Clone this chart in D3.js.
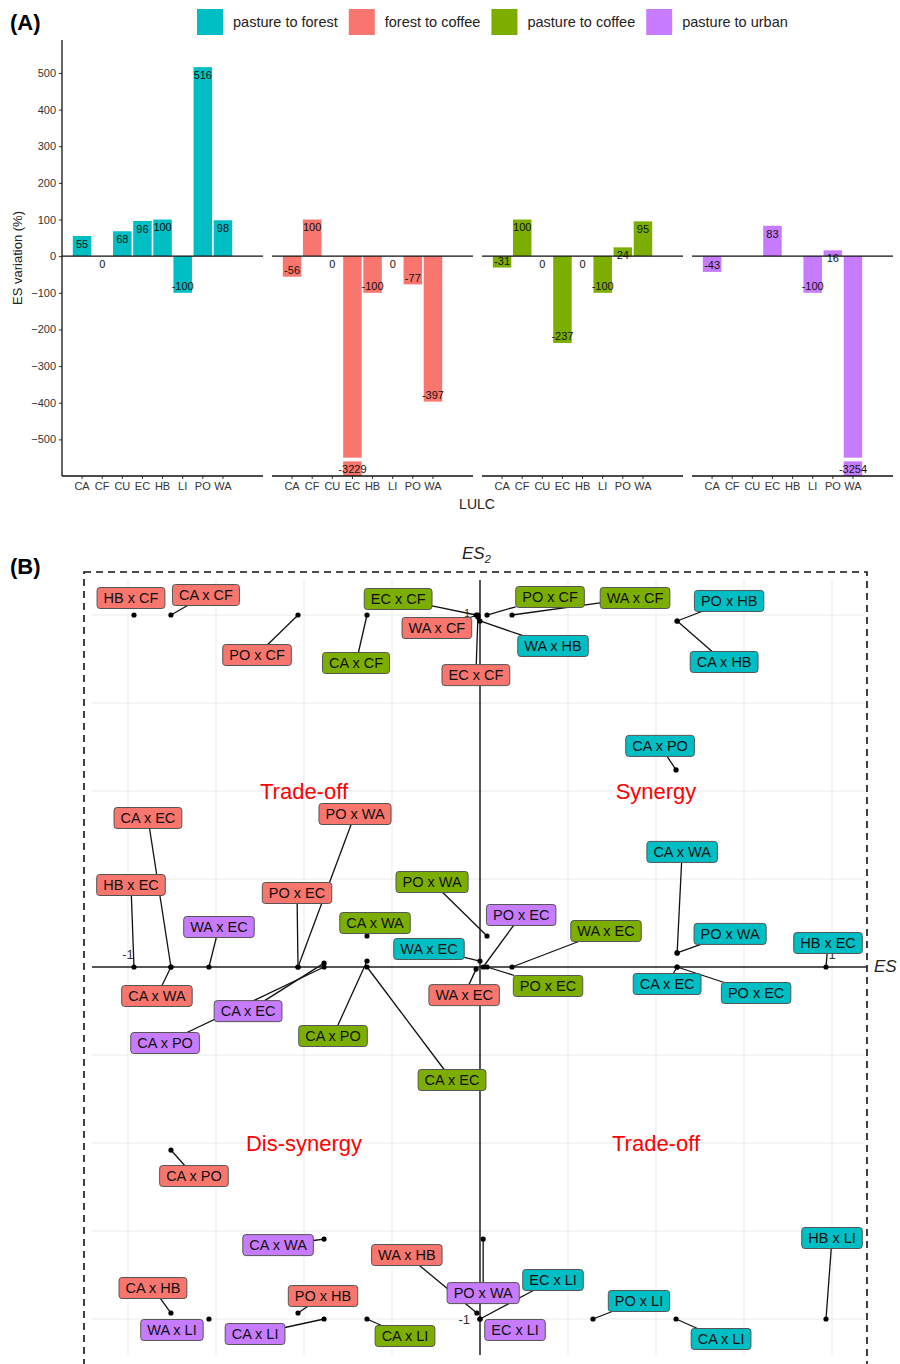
<!DOCTYPE html>
<html><head><meta charset="utf-8">
<script src="https://cdn.jsdelivr.net/npm/d3@7"></script>
<style>
body{margin:0;background:#fff}
text{font-family:"Liberation Sans",Arial,sans-serif}
</style></head><body>
<script>
// ---- panel A data ----
var lulc = ["CA","CF","CU","EC","HB","LI","PO","WA"];
var transitions = ["pasture to forest","forest to coffee","pasture to coffee","pasture to urban"];
var colors = ["#00BFC4","#F8766D","#7CAE00","#C77CFF"];
var pastureForest = [55,0,68,96,100,-100,516,98];
var forestCoffee = [-56,100,0,-3229,-100,0,-77,-397];
var pastureCoffee = [-31,100,0,-237,0,-100,24,95];
var pastureUrban = [-43,null,null,83,null,-100,16,-3254];
var yTicksA = [-500,-400,-300,-200,-100,0,100,200,300,400,500];

// ---- panel B data ----
// group: 0 pasture to forest, 1 forest to coffee, 2 pasture to coffee, 3 pasture to urban
var pairs = ["HB x CF","CA x CF","PO x CF","CA x CF","EC x CF","WA x CF","EC x CF","WA x HB","PO x CF","WA x CF",
  "PO x HB","CA x HB","CA x PO","CA x EC","HB x EC","CA x WA","WA x EC","PO x WA","PO x EC","CA x WA",
  "CA x EC","CA x PO","CA x PO","CA x EC","PO x WA","PO x EC","WA x EC","WA x EC","PO x EC","WA x EC",
  "CA x WA","PO x WA","CA x EC","PO x EC","HB x EC","CA x PO","CA x WA","WA x HB","CA x HB","WA x LI",
  "PO x HB","CA x LI","CA x LI","PO x WA","EC x LI","EC x LI","PO x LI","CA x LI","HB x LI"];
var pairGroup = [1,1,1,2,2,1,1,0,2,2, 0,0,0,1,1,1,3,1,1,2, 3,3,2,2,2,3,0,1,2,2, 0,0,0,0,0,1,3,1,1,3, 1,3,2,3,0,3,0,0,0];
var es1 = [-0.983,-0.878,-0.517,-0.321,-0.011,-0.006,-0.006,0,0.02,0.091,
  0.56,0.56,0.557,-0.878,-0.983,-0.878,-0.77,-0.517,-0.517,-0.321,
  -0.443,-0.443,-0.321,-0.321,0.02,0.009,0,-0.011,0.02,0.091,
  0.56,0.56,0.56,0.56,0.983,-0.878,-0.443,-0.009,-0.878,-0.77,
  -0.517,-0.443,-0.321,0.009,0,0,0.321,0.557,0.983];
var es2 = [1,1,1,1,1,1,0.994,0.983,1,1,
  0.983,0.983,0.56,0,0,0,0,0,0,0.088,
  0.011,0,0.017,0,0.088,0,0.017,-0.006,0,0,
  0.04,0.04,0,0,0,-0.52,-0.773,-0.983,-0.983,-1,
  -0.983,-1,-1,-0.773,-1,-1,-1,-1,-1];
var quadrantNames = ["Trade-off","Synergy","Dis-synergy","Trade-off"];
var quadrantX = [-0.5,0.5,-0.5,0.5];
var quadrantY = [0.5,0.5,-0.5,-0.5];

// label placement (repel result), pixel offsets of label centre from its point
var labelOffset = [[-3,-17],[35,-20],[-41,40],[-11,48],[-78,-16],[-41,13],[-2,58],[73,25],[63,-18],[123,-17],
  [52,-20],[47,41],[-16,-24],[-23,-149],[-3,-82],[-14,29],[10,-40],[57,-153],[-1,-74],[8,-13],
  [-76,48],[-159,76],[-34,75],[85,113],[-55,-54],[38,-52],[-51,-12],[-12,26],[61,19],[94,-36],
  [5,-101],[53,-19],[-10,17],[79,26],[2,-24],[23,26],[-46,6],[-70,-58],[-18,-25],[-37,11],
  [25,-17],[-69,15],[38,17],[0,54],[73,-39],[35,11],[46,-18],[45,20],[6,-81]];

var svg = d3.select("body").append("svg").attr("width",900).attr("height",1364);

// ================= PANEL A =================
svg.append("text").attr("x",10).attr("y",30).attr("font-size",22).attr("font-weight","bold").text("(A)");

var seriesA = [pastureForest, forestCoffee, pastureCoffee, pastureUrban];
var yA = d3.scaleLinear().domain([-600,590]).range([476,40]);
var facet = d3.scaleBand().domain(transitions).range([62,893]).paddingInner(0.043).paddingOuter(0);
var breakTop = -550, breakBottom = -560;

// legend
var lx = 197;
transitions.forEach(function(t,i){
  svg.append("rect").attr("x",lx).attr("y",9).attr("width",26).attr("height",26).attr("fill",colors[i]);
  var tx = svg.append("text").attr("x",lx+36).attr("y",27).attr("font-size",14.5).attr("fill","#222").text(t);
  lx = lx + 36 + tx.node().getComputedTextLength() + 11;
});

transitions.forEach(function(t,i){
  var s = facet(t), w = facet.bandwidth();
  var g = svg.append("g");
  var x = d3.scaleBand().domain(lulc).range([s+10, s+171]).paddingInner(0.08).paddingOuter(0.04);
  var data = lulc.map(function(c,j){ return {cat:c, v:seriesA[i][j]}; }).filter(function(d){ return d.v!==null; });

  g.selectAll("rect.bar").data(data).enter().append("rect")
    .attr("class","bar")
    .attr("x",function(d){ return x(d.cat); })
    .attr("width",x.bandwidth())
    .attr("y",function(d){ return yA(Math.max(d.v,0)); })
    .attr("height",function(d){ return Math.abs(yA(Math.max(d.v,yA.domain()[0])) - yA(0)); })
    .attr("fill",colors[i]);

  // axis break on truncated bars
  g.selectAll("rect.brk").data(data.filter(function(d){ return d.v < yA.domain()[0]; })).enter().append("rect")
    .attr("x",function(d){ return x(d.cat)-1; })
    .attr("width",x.bandwidth()+2)
    .attr("y",yA(breakTop))
    .attr("height",yA(breakBottom)-yA(breakTop))
    .attr("fill","#fff");

  g.selectAll("text.val").data(data).enter().append("text")
    .attr("x",function(d){ return x(d.cat)+x.bandwidth()/2; })
    .attr("y",function(d){
      var v = Math.max(d.v, yA.domain()[0]);
      return v<0 ? yA(v)-6.5 : yA(v)+8;
    })
    .attr("dy","0.35em")
    .attr("text-anchor","middle").attr("font-size",11).attr("fill","#111")
    .text(function(d){ return d.v; });

  // zero line and bottom line
  g.append("line").attr("x1",s).attr("x2",s+w).attr("y1",yA(0)).attr("y2",yA(0)).attr("stroke","#111").attr("stroke-width",1.3);
  var ax = g.append("g").attr("transform","translate(0,476)")
    .call(d3.axisBottom(x).tickSize(3).tickSizeOuter(0).tickPadding(3));
  ax.select(".domain").remove();
  ax.selectAll("text").attr("font-size",11).attr("fill","#333").attr("font-family","Liberation Sans, Arial, sans-serif");
  ax.selectAll("line").attr("stroke","#333");
  g.append("line").attr("x1",s).attr("x2",s+w).attr("y1",476).attr("y2",476).attr("stroke","#111").attr("stroke-width",1.3);
});

var yAx = svg.append("g").attr("transform","translate(62,0)")
  .call(d3.axisLeft(yA).tickValues(yTicksA).tickSize(3).tickSizeOuter(0));
yAx.select(".domain").remove();
yAx.selectAll("text").attr("font-size",11).attr("fill","#333").attr("font-family","Liberation Sans, Arial, sans-serif");
yAx.selectAll("line").attr("stroke","#333");
svg.append("line").attr("x1",62).attr("x2",62).attr("y1",40).attr("y2",476).attr("stroke","#111").attr("stroke-width",1.3);

svg.append("text").attr("transform","translate(22,258) rotate(-90)").attr("text-anchor","middle")
  .attr("font-size",13).attr("fill","#222").text("ES variation (%)");
svg.append("text").attr("x",477).attr("y",509).attr("text-anchor","middle").attr("font-size",14).attr("fill","#222").text("LULC");

// ================= PANEL B =================
svg.append("text").attr("x",10).attr("y",574).attr("font-size",22).attr("font-weight","bold").text("(B)");

var xB = d3.scaleLinear().domain([-1,1]).range([128,832]);
var yB = d3.scaleLinear().domain([-1,1]).range([1319,615]);
var gridB = d3.range(-4,5).map(function(d){ return d/4; });
var gB = svg.append("g");

gB.selectAll("line.gx").data(gridB).enter().append("line")
  .attr("x1",function(d){ return xB(d); }).attr("x2",function(d){ return xB(d); })
  .attr("y1",580).attr("y2",1355).attr("stroke","#EBEBEB").attr("stroke-width",1);
gB.selectAll("line.gy").data(gridB).enter().append("line")
  .attr("y1",function(d){ return yB(d); }).attr("y2",function(d){ return yB(d); })
  .attr("x1",92).attr("x2",865).attr("stroke","#EBEBEB").attr("stroke-width",1);

gB.append("rect").attr("x",84).attr("y",572).attr("width",783).attr("height",820)
  .attr("fill","none").attr("stroke","#111").attr("stroke-width",1.6).attr("stroke-dasharray","7,5");

gB.append("line").attr("x1",92).attr("x2",867).attr("y1",yB(0)).attr("y2",yB(0)).attr("stroke","#222").attr("stroke-width",1.5);
gB.append("line").attr("x1",xB(0)).attr("x2",xB(0)).attr("y1",580).attr("y2",1355).attr("stroke","#222").attr("stroke-width",1.5);

// axis end labels
gB.append("text").attr("x",xB(-1)).attr("y",yB(0)-8).attr("text-anchor","middle").attr("font-size",13).attr("fill","#333").text("-1");
gB.append("text").attr("x",xB(1)).attr("y",yB(0)-8).attr("text-anchor","middle").attr("font-size",13).attr("fill","#333").text("1");
gB.append("text").attr("x",xB(0)-10).attr("y",yB(-1)+5).attr("text-anchor","end").attr("font-size",13).attr("fill","#333").text("-1");
gB.append("text").attr("x",xB(0)-10).attr("y",yB(1)+2).attr("text-anchor","end").attr("font-size",11).attr("fill","#333").text("1");

var es2t = gB.append("text").attr("x",462).attr("y",559).attr("font-size",17).attr("font-style","italic").attr("fill","#222");
es2t.append("tspan").text("ES");
es2t.append("tspan").attr("font-size",11).attr("dy",4).text("2");
gB.append("text").attr("x",874).attr("y",972).attr("font-size",17).attr("font-style","italic").attr("fill","#222").text("ES");

gB.selectAll("text.quad").data(quadrantNames).enter().append("text")
  .attr("x",function(d,i){ return xB(quadrantX[i]); })
  .attr("y",function(d,i){ return yB(quadrantY[i]); })
  .attr("dy","0.35em").attr("text-anchor","middle").attr("font-size",22).attr("fill","#FF0000")
  .text(function(d){ return d; });

var pts = pairs.map(function(p,i){
  return {label:p, g:pairGroup[i], x:xB(es1[i]), y:yB(es2[i]), cx:xB(es1[i])+labelOffset[i][0], cy:yB(es2[i])+labelOffset[i][1]};
});

// measure label widths
var meas = svg.append("text").attr("font-size",14.5);
pts.forEach(function(d){ meas.text(d.label); d.w = meas.node().getComputedTextLength()+13; d.h = 21; });
meas.remove();

// segments from point to label box edge
pts.forEach(function(d){
  var dx = d.x - d.cx, dy = d.y - d.cy;
  var hw = d.w/2, hh = d.h/2;
  if (Math.abs(dx) <= hw && Math.abs(dy) <= hh) return;
  var t = Math.min(Math.abs(dx)>0 ? hw/Math.abs(dx) : Infinity, Math.abs(dy)>0 ? hh/Math.abs(dy) : Infinity);
  var ex = d.cx + dx*t, ey = d.cy + dy*t;
  var len = Math.hypot(d.x-ex, d.y-ey);
  if (len < 7) return;
  gB.append("line").attr("x1",d.x).attr("y1",d.y).attr("x2",ex).attr("y2",ey).attr("stroke","#111").attr("stroke-width",1.3);
});

gB.selectAll("circle.pt").data(pts).enter().append("circle")
  .attr("cx",function(d){ return d.x; }).attr("cy",function(d){ return d.y; })
  .attr("r",2.6).attr("fill","#000");

var lab = gB.selectAll("g.lab").data(pts).enter().append("g")
  .attr("transform",function(d){ return "translate("+d.cx+","+d.cy+")"; });
lab.append("rect")
  .attr("x",function(d){ return -d.w/2; }).attr("y",function(d){ return -d.h/2; })
  .attr("width",function(d){ return d.w; }).attr("height",function(d){ return d.h; })
  .attr("rx",3).attr("fill",function(d){ return colors[d.g]; })
  .attr("stroke","#555").attr("stroke-width",1);
lab.append("text").attr("text-anchor","middle").attr("dy","0.36em").attr("font-size",14.5).attr("fill","#111")
  .text(function(d){ return d.label; });
</script>
</body></html>
